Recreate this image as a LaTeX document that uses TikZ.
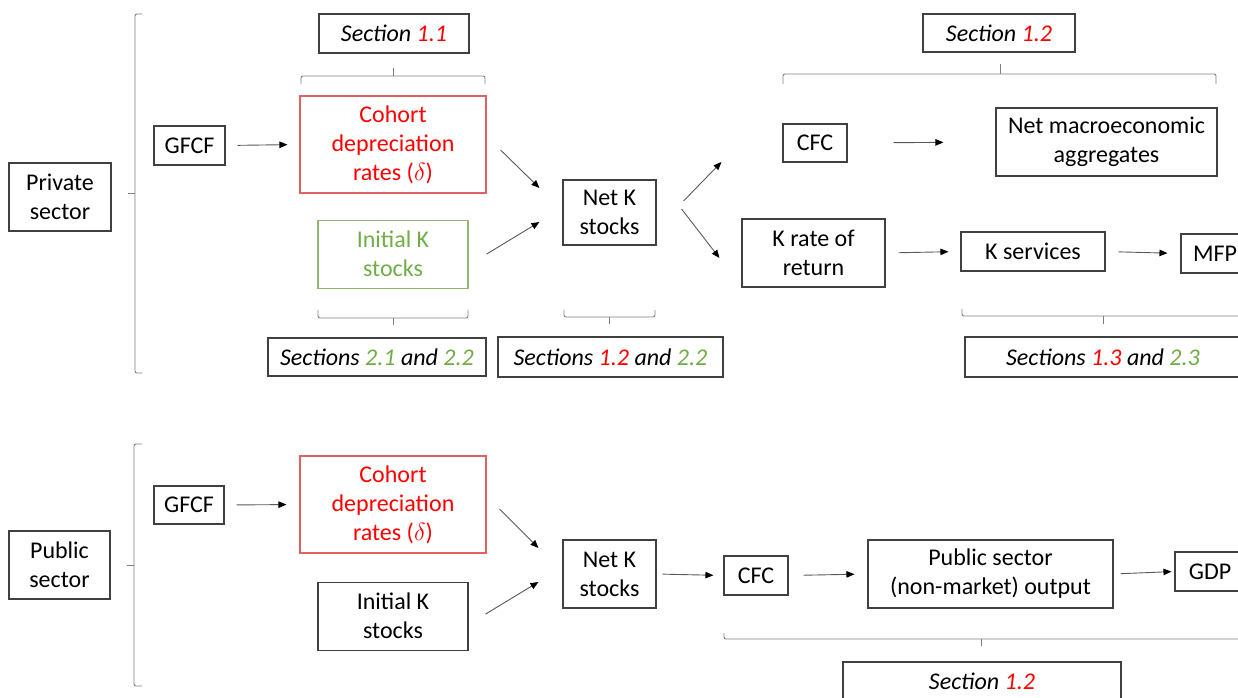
\documentclass[tikz,border=0pt]{standalone}
\usepackage{fontspec}
\setmainfont{Carlito}
\usepackage{tikz}
\usetikzlibrary{calc,positioning,arrows.meta}
\definecolor{secred}{RGB}{255,0,0}
\definecolor{secgreen}{RGB}{112,173,71}
\definecolor{redline}{RGB}{222,98,98}
\definecolor{greenline}{RGB}{146,182,112}
\definecolor{boxline}{RGB}{64,64,64}
\newcommand{\bigf}{\fontsize{24bp}{29bp}\selectfont}
\newcommand{\rs}[1]{\textcolor{secred}{#1}}
\newcommand{\gs}[1]{\textcolor{secgreen}{#1}}
\tikzset{
  rectnodes/.style args={#1,#2}{
  draw=boxline,
  line width=1.1bp,
  align=center,
  inner sep=0pt,
  minimum width=#1bp,
  minimum height=#2bp,
  },
  rednode/.style args={#1,#2}{rectnodes={#1,#2},draw=redline,text=secred},
  greennode/.style args={#1,#2}{rectnodes={#1,#2},draw=greenline,text=secgreen},
  secnode/.style args={#1,#2}{rectnodes={#1,#2},font=\bigf\itshape},
  brc/.style={draw=gray,line width=0.9bp,rounded corners=2bp},
  arr/.style={->,draw=gray!70!black,line width=0.9bp}
}

\begin{document}
\begin{tikzpicture}[x=1bp,y=-1bp,font=\bigf,
  >={Triangle[length=8bp,width=6.5bp,color=black]}]
  \useasboundingbox (0,0) rectangle (1238,698);
  \clip (0,0) rectangle (1238,698);

  % private sector
  \node [rectnodes={102,68}] (pv) at (60,197) {Private\\sector};
  \node [rectnodes={71,39}] (gf1) at (189.5,145.5) {GFCF};
  \node [rednode={186,97}] (co1) at (393,144.5) {Cohort\\depreciation\\rates ($\delta$)};
  \node [greennode={150,68},below=26bp of co1] (in1) {Initial K\\stocks};
  \node [rectnodes={93,65}] (nk1) at (609.5,212.5) {Net K\\stocks};
  \node [rectnodes={64,38}] (cf1) at (815,143) {CFC};
  \node [rectnodes={221,68}] (nm1) at (1106.5,142) {Net macroeconomic\\aggregates};
  \node [rectnodes={143,68}] (kr1) at (813.5,253) {K rate of\\return};
  \node [rectnodes={144,39}] (ks1) at (1033,251.5) {K services};
  \node [rectnodes={68,39}] (mfp1) at (1215,253.5) {MFP};

  \node [secnode={150,39}] (s11) at (394,33.5) {Section \rs{1.1}};
  \node [secnode={152,38}] (s12a) at (999,33) {Section \rs{1.2}};
  \node [secnode={218,38}] (s2122) at (377,357) {Sections \gs{2.1} and \gs{2.2}};
  \node [secnode={225,40}] (s1222) at (610.5,357) {Sections \rs{1.2} and \gs{2.2}};
  \node [secnode={276,40}] (s1323) at (1103,357) {Sections \rs{1.3} and \gs{2.3}};

  % public sector
  \node [rectnodes={101,68}] (pb) at (59.5,565) {Public\\sector};
  \node [rectnodes={70,38}] (gf2) at (189,505) {GFCF};
  \node [rednode={186,97}] (co2) at (393,504.5) {Cohort\\depreciation\\rates ($\delta$)};
  \node [rectnodes={150,68},below=28bp of co2] (in2) {Initial K\\stocks};
  \node [rectnodes={93,68}] (nk2) at (609.5,574) {Net K\\stocks};
  \node [rectnodes={64,39}] (cf2) at (756,575.5) {CFC};
  \node [rectnodes={245,68}] (po2) at (990.5,574) {Public sector\\(non-market) output};
  \node [rectnodes={70,39}] (gdp2) at (1210,571.5) {GDP};
  \node [secnode={278,38}] (s12b) at (982,681) {Section \rs{1.2}};

  % braces
  \draw [brc] (142,14) -- (135,14) -- (135,373) -- (142,373);
  \draw [brc] (135,193) -- (128,193);
  \draw [brc] (142,444) -- (134,444) -- (134,686) -- (142,686);
  \draw [brc] (134,565) -- (127,565);
  \draw [brc] (301,84) -- (301,76) -- (485,76) -- (485,84);
  \draw [brc] (393,76) -- (393,68);
  \draw [brc] (318,310) -- (318,318) -- (468,318) -- (468,310);
  \draw [brc] (393,318) -- (393,325);
  \draw [brc] (564,310) -- (564,317) -- (655,317) -- (655,310);
  \draw [brc] (609,317) -- (609,324);
  \draw [brc] (783,84) -- (783,74) -- (1216,74) -- (1216,84);
  \draw [brc] (1000,74) -- (1000,64);
  \draw [brc] (962,309) -- (962,316) -- (1260,316);
  \draw [brc] (1103,316) -- (1103,324);
  \draw [brc] (724,633) -- (724,639) -- (1260,639);
  \draw [brc] (981,639) -- (981,646);

  % arrows
  \draw [arr,shorten <=12bp,shorten >=12bp] (gf1.east) -- (co1.west);
  \draw [arr] ($(co1.east)+(14,5.5)$) -- ($(nk1.west)+(-23,-24.5)$);
  \draw [arr] ($(in1.east)+(18,0)$) -- ($(nk1.west)+(-23,9.5)$);
  \draw [arr] ($(nk1.east)+(27,-11.5)$) -- ($(cf1.west)+(-61,19)$);
  \draw [arr] ($(nk1.east)+(25,-3.5)$) -- ($(kr1.west)+(-22,5)$);
  \draw [arr,shorten <=46bp,shorten >=52bp] (cf1.east) -- (nm1.west);
  \draw [arr,shorten <=13bp,shorten >=12bp] (kr1.east) -- (ks1.west);
  \draw [arr,shorten <=13bp,shorten >=13bp] (ks1.east) -- (mfp1.west);

  \draw [arr,shorten <=12bp,shorten >=13bp] (gf2.east) -- (co2.west);
  \draw [arr] ($(co2.east)+(13,4.5)$) -- ($(nk2.west)+(-24,-26)$);
  \draw [arr] ($(in2.east)+(17,-2)$) -- ($(nk2.west)+(-24,8)$);
  \draw [arr,shorten <=6bp,shorten >=10bp] (nk2.east) -- (cf2.west);
  \draw [arr,shorten <=15bp,shorten >=13bp] (cf2.east) -- (po2.west);
  \draw [arr,shorten <=7bp,shorten >=3bp] (po2.east) -- (gdp2.west);
\end{tikzpicture}
\end{document}
